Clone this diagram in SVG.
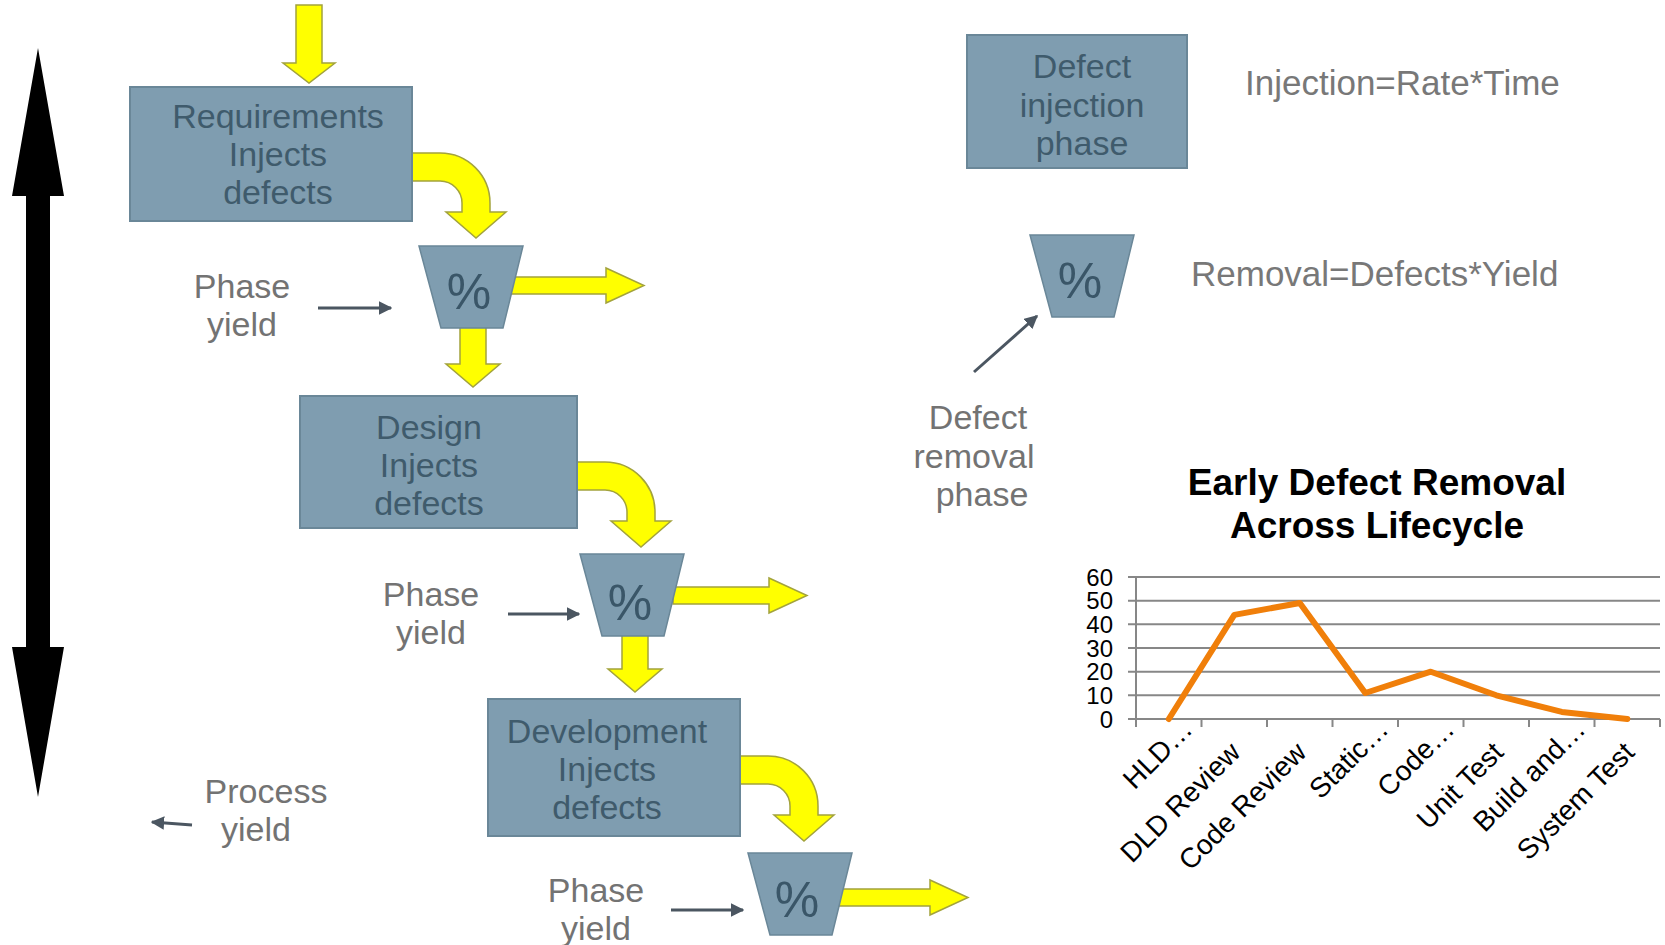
<svg xmlns="http://www.w3.org/2000/svg" width="1665" height="945" viewBox="0 0 1665 945">
<defs>
<style>
.box{fill:#7f9db0;stroke:#6a8798;stroke-width:2}
.trap{fill:#7f9db0;stroke:#6a8798;stroke-width:1.5}
.yel{fill:#ffff00;stroke:#a3a33c;stroke-width:1.5;stroke-linejoin:miter}
.bt{font-family:"Liberation Sans",Arial,sans-serif;font-size:34px;fill:#3f5b6c;text-anchor:middle}
.lt{font-family:"Liberation Sans",Arial,sans-serif;font-size:34px;fill:#737373;text-anchor:middle}
.ft{font-family:"Liberation Sans",Arial,sans-serif;font-size:35px;fill:#787878}
.pct{font-family:"Liberation Sans",Arial,sans-serif;font-size:50px;fill:#3a5668;text-anchor:middle}
.thin{stroke:#4b5661;stroke-width:3;fill:none}
.grid{stroke:#878787;stroke-width:2;fill:none}
.ax{font-family:"Liberation Sans",Arial,sans-serif;font-size:24px;fill:#000;text-anchor:end}
.cx{font-family:"Liberation Sans",Arial,sans-serif;font-size:28px;fill:#000;text-anchor:end}
.title{font-family:"Liberation Sans",Arial,sans-serif;font-size:37px;font-weight:bold;fill:#000;text-anchor:middle}
</style>
<marker id="ah" viewBox="0 0 10 10" refX="9" refY="5" markerWidth="4.5" markerHeight="4.5" orient="auto" markerUnits="strokeWidth">
<path d="M0 0 L10 5 L0 10 Z" fill="#4b5661"/>
</marker>
<path id="curve" d="M412 153 L440 153 A50 50 0 0 1 490 203 L490 212 L506 212 L476 238 L446 212 L462 212 L462 203 A22 22 0 0 0 440 181 L412 181 Z"/>
<path id="hor" d="M510 277 L606 277 L606 268 L644 285.5 L606 303 L606 294 L510 294 Z"/>
<path id="down" d="M460 326 L486 326 L486 364 L500 364 L473 387 L446 364 L460 364 Z"/>
<path id="trapz" d="M419 246 L523 246 L503 328 L441 328 Z"/>
</defs>

<g id="lifecycle-arrow">
<path d="M38 48 L64 196 L50 196 L50 647 L64 647 L38 797 L12 647 L26 647 L26 196 L12 196 Z" fill="#000"/>
</g>

<g id="connectors">
<path class="yel" d="M296 5 L322 5 L322 63 L335 63 L309 83 L283 63 L296 63 Z"/>
<use href="#curve" class="yel"/>
<use href="#curve" class="yel" transform="translate(165 309)"/>
<use href="#curve" class="yel" transform="translate(328 603)"/>
<use href="#hor" class="yel"/>
<use href="#hor" class="yel" transform="translate(163 310)"/>
<use href="#hor" class="yel" transform="translate(324 612)"/>
<use href="#down" class="yel"/>
<use href="#down" class="yel" transform="translate(162 305)"/>
<line class="thin" x1="318" y1="308" x2="391" y2="308" marker-end="url(#ah)"/>
<line class="thin" x1="508" y1="614" x2="579" y2="614" marker-end="url(#ah)"/>
<line class="thin" x1="671" y1="910" x2="743" y2="910" marker-end="url(#ah)"/>
<line class="thin" x1="192" y1="825" x2="152" y2="822" marker-end="url(#ah)"/>
<line class="thin" x1="974" y1="372" x2="1037" y2="316" stroke-width="2.5" marker-end="url(#ah)"/>
</g>

<g id="requirements">
<rect class="box" x="130" y="87" width="282" height="134"/>
<text class="bt" x="278" y="128">Requirements</text>
<text class="bt" x="278" y="166">Injects</text>
<text class="bt" x="278" y="204">defects</text>
</g>

<g id="yield1">
<use href="#trapz" class="trap"/>
<text class="pct" x="469" y="309">%</text>
</g>

<g id="phase-yield-1">
<text class="lt" x="242" y="298">Phase</text>
<text class="lt" x="242" y="336">yield</text>
</g>

<g id="design">
<rect class="box" x="300" y="396" width="277" height="132"/>
<text class="bt" x="429" y="439">Design</text>
<text class="bt" x="429" y="477">Injects</text>
<text class="bt" x="429" y="515">defects</text>
</g>

<g id="yield2">
<use href="#trapz" class="trap" transform="translate(161 308)"/>
<text class="pct" x="630" y="620">%</text>
</g>

<g id="phase-yield-2">
<text class="lt" x="431" y="606">Phase</text>
<text class="lt" x="431" y="644">yield</text>
</g>

<g id="development">
<rect class="box" x="488" y="699" width="252" height="137"/>
<text class="bt" x="607" y="743">Development</text>
<text class="bt" x="607" y="781">Injects</text>
<text class="bt" x="607" y="819">defects</text>
</g>

<g id="yield3">
<use href="#trapz" class="trap" transform="translate(329 607)"/>
<text class="pct" x="797" y="917">%</text>
</g>

<g id="phase-yield-3">
<text class="lt" x="596" y="902">Phase</text>
<text class="lt" x="596" y="940">yield</text>
</g>

<g id="process-yield">
<text class="lt" x="266" y="803">Process</text>
<text class="lt" x="256" y="841">yield</text>
</g>

<g id="legend-injection">
<rect class="box" x="967" y="35" width="220" height="133"/>
<text class="bt" x="1082" y="78">Defect</text>
<text class="bt" x="1082" y="117">injection</text>
<text class="bt" x="1082" y="155">phase</text>
<text class="ft" x="1245" y="95">Injection=Rate*Time</text>
</g>

<g id="legend-removal">
<use href="#trapz" class="trap" transform="translate(611 -11)"/>
<text class="pct" x="1080" y="298">%</text>
<text class="ft" x="1191" y="286">Removal=Defects*Yield</text>
</g>

<g id="defect-removal-label">
<text class="lt" x="978" y="429">Defect</text>
<text class="lt" x="974" y="468">removal</text>
<text class="lt" x="982" y="506">phase</text>
</g>

<g id="chart">
<text class="title" x="1377" y="495">Early Defect Removal</text>
<text class="title" x="1377" y="538">Across Lifecycle</text>
<g class="grid">
<line x1="1128" y1="577" x2="1660" y2="577"/>
<line x1="1128" y1="600.7" x2="1660" y2="600.7"/>
<line x1="1128" y1="624.3" x2="1660" y2="624.3"/>
<line x1="1128" y1="648" x2="1660" y2="648"/>
<line x1="1128" y1="671.7" x2="1660" y2="671.7"/>
<line x1="1128" y1="695.3" x2="1660" y2="695.3"/>
<line x1="1128" y1="719" x2="1660" y2="719"/>
<line x1="1136" y1="577" x2="1136" y2="727"/>
<line x1="1201.5" y1="719" x2="1201.5" y2="727"/>
<line x1="1267" y1="719" x2="1267" y2="727"/>
<line x1="1332.5" y1="719" x2="1332.5" y2="727"/>
<line x1="1398" y1="719" x2="1398" y2="727"/>
<line x1="1463.5" y1="719" x2="1463.5" y2="727"/>
<line x1="1529" y1="719" x2="1529" y2="727"/>
<line x1="1594.5" y1="719" x2="1594.5" y2="727"/>
<line x1="1660" y1="719" x2="1660" y2="727"/>
</g>
<text class="ax" x="1113" y="585.5">60</text>
<text class="ax" x="1113" y="609.2">50</text>
<text class="ax" x="1113" y="632.8">40</text>
<text class="ax" x="1113" y="656.5">30</text>
<text class="ax" x="1113" y="680.2">20</text>
<text class="ax" x="1113" y="703.8">10</text>
<text class="ax" x="1113" y="727.5">0</text>
<polyline points="1168.8,719 1234.3,614.9 1299.8,603 1365.3,693 1430.8,671.7 1496.3,695.3 1561.8,711.9 1627.3,719" fill="none" stroke="#f07f0a" stroke-width="6" stroke-linejoin="round" stroke-linecap="round"/>
<text class="cx" x="1194" y="731" transform="rotate(-45 1194 731)">HLD…</text>
<text class="cx" x="1242" y="754" transform="rotate(-45 1242 754)">DLD Review</text>
<text class="cx" x="1308" y="754" transform="rotate(-45 1308 754)">Code Review</text>
<text class="cx" x="1390" y="731" transform="rotate(-45 1390 731)">Static…</text>
<text class="cx" x="1456" y="731" transform="rotate(-45 1456 731)">Code…</text>
<text class="cx" x="1505" y="754" transform="rotate(-45 1505 754)">Unit Test</text>
<text class="cx" x="1587" y="731" transform="rotate(-45 1587 731)">Build and…</text>
<text class="cx" x="1636" y="754" transform="rotate(-45 1636 754)">System Test</text>
</g>
</svg>
